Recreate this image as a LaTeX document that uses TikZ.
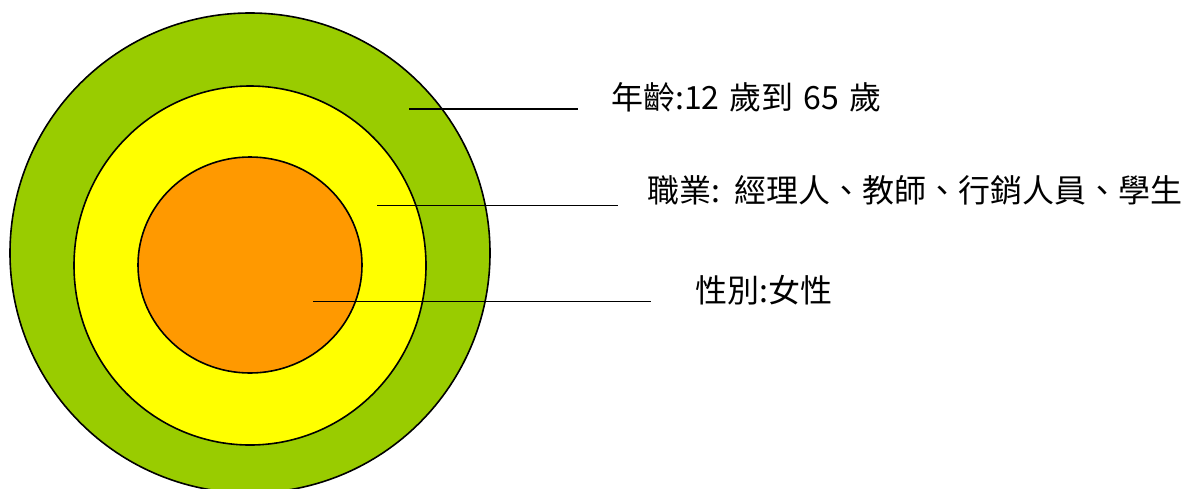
\documentclass[tikz,border=0pt]{standalone}
\usepackage{fontspec}
\newfontfamily\cjk{Noto Sans CJK TC}
\definecolor{ringgreen}{HTML}{99CC00}
\definecolor{ringyellow}{HTML}{FFFF00}
\definecolor{ringorange}{HTML}{FF9900}
\begin{document}
\begin{tikzpicture}[x=1pt,y=-1pt,
  ring/.style={draw=black, line width=1.6pt},
  leader/.style={draw=black, line width=1.8pt},
  lbl/.style={anchor=west, inner sep=0pt, font=\cjk\fontsize{32}{38}\selectfont}]
\useasboundingbox (0,0) rectangle (1196,488);
\fill[white] (0,0) rectangle (1196,488);
\path[ring, fill=ringgreen] (250,253) circle [radius=240pt];
\path[ring, fill=ringyellow] (250,265.5) ellipse [x radius=176pt, y radius=179.5pt];
\path[ring, fill=ringorange] (250,265) ellipse [x radius=112pt, y radius=108pt];
\coordinate (a1) at (409,109);
\coordinate (a2) at (578,109);
\coordinate (b1) at (377,205.5);
\coordinate (b2) at (618,205.5);
\coordinate (c1) at (313,301.5);
\coordinate (c2) at (651,301.5);
\draw[leader] (a1) -- (a2);
\draw[leader] (b1) -- (b2);
\draw[leader] (c1) -- (c2);
\node[lbl] (age) at (611,97) {年齡:12\hspace{3pt} 歲到\hspace{3pt} 65\hspace{3pt} 歲};
\node[lbl] (job) at (647,190) {職業:\hspace{14pt}經理人、教師、行銷人員、學生};
\node[lbl] (sex) at (695,290) {性別:女性};
\end{tikzpicture}
\end{document}
